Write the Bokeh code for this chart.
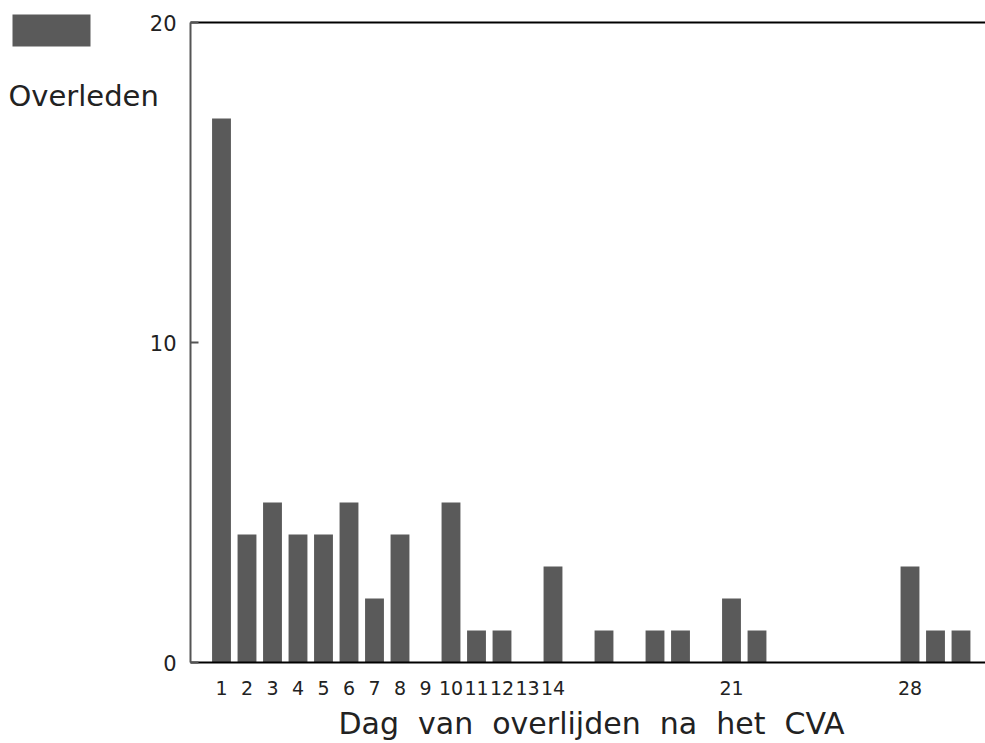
from bokeh.plotting import figure
from bokeh.models import (Range1d, Label, BoxAnnotation, FixedTicker, AllLabels,
                          LinearAxis)
from bokeh.embed import file_html
from bokeh.resources import INLINE

# ---- data ----
days = list(range(1, 31))
deaths = [17, 4, 5, 4, 4, 5, 2, 4, 0, 5,
          1, 1, 0, 3, 0, 1, 0, 1, 1, 0,
          2, 1, 0, 0, 0, 0, 0, 3, 1, 1]
x_tick_days = [1, 2, 3, 4, 5, 6, 7, 8, 9, 10, 11, 12, 13, 14, 21, 28]
y_ticks = [0, 10, 20]
legend_label = "Overleden"
x_title = "Dag van overlijden na het CVA"

BAR = "#5a5a5a"
FONT = "DejaVu Sans"
TXT = "#222222"

W, H = 985, 743
# canvas <-> data geometry (frame covers the whole canvas)
PPX = 25.5          # px per day
PPY = 32.0          # px per death
X_START = 1 - 221 / PPX
X_END = X_START + W / PPX
Y_TOP = 20 + 22 / PPY
Y_BOT = -(H - 662) / PPY
AXIS_X = X_START + 190 / PPX


def sx(px):
    return X_START + px / PPX


def sy(py):
    return Y_TOP - py / PPY


p = figure(width=W, height=H, output_backend="svg", toolbar_location=None,
           x_range=Range1d(X_START, X_END), y_range=Range1d(Y_BOT, Y_TOP),
           min_border=0, x_axis_location=None, y_axis_location=None)
p.background_fill_color = "white"
p.border_fill_color = "white"
p.outline_line_color = None
p.grid.visible = False

p.vbar(x=days, top=deaths, width=0.74, bottom=0, fill_color=BAR, line_color=None)

# bottom axis
xa = LinearAxis(fixed_location=0, bounds=(AXIS_X, X_END),
                ticker=FixedTicker(ticks=x_tick_days))
xa.major_label_policy = AllLabels()
xa.major_tick_in = 0
xa.major_tick_out = 0
xa.minor_tick_line_color = None
xa.axis_line_color = "black"
xa.axis_line_width = 2
xa.major_label_text_font = FONT
xa.major_label_text_font_size = "19px"
xa.major_label_text_color = TXT
xa.major_label_standoff = 18
p.add_layout(xa, "below")

# left axis
ya = LinearAxis(fixed_location=AXIS_X, bounds=(0, 20),
                ticker=FixedTicker(ticks=y_ticks))
ya.major_tick_in = 8
ya.major_tick_out = 0
ya.major_tick_line_width = 2
ya.major_tick_line_color = "#555555"
ya.minor_tick_line_color = None
ya.axis_line_color = "#555555"
ya.axis_line_width = 2
ya.major_label_text_font = FONT
ya.major_label_text_font_size = "21px"
ya.major_label_text_color = TXT
ya.major_label_standoff = 14
p.add_layout(ya, "left")

# top border line
ta = LinearAxis(fixed_location=20, bounds=(AXIS_X, X_END),
                ticker=FixedTicker(ticks=[]))
ta.major_tick_line_color = None
ta.minor_tick_line_color = None
ta.major_label_text_color = None
ta.axis_line_color = "black"
ta.axis_line_width = 2
p.add_layout(ta, "above")

# legend swatch + label
p.add_layout(BoxAnnotation(left=sx(12), right=sx(90), top=sy(14), bottom=sy(46),
                           fill_color=BAR, fill_alpha=1, line_color=None))
p.add_layout(Label(x=sx(8), y=sy(95), text=legend_label, text_font=FONT,
                   text_font_size="29px", text_color=TXT,
                   text_baseline="alphabetic", text_align="left"))

# x title
p.add_layout(Label(x=sx(591), y=sy(723), text=x_title.replace(" ", "\u00a0 "),
                   text_font=FONT, text_font_size="30px", text_color=TXT,
                   text_baseline="alphabetic", text_align="center"))

open("out.html", "w").write(file_html(p, INLINE))
